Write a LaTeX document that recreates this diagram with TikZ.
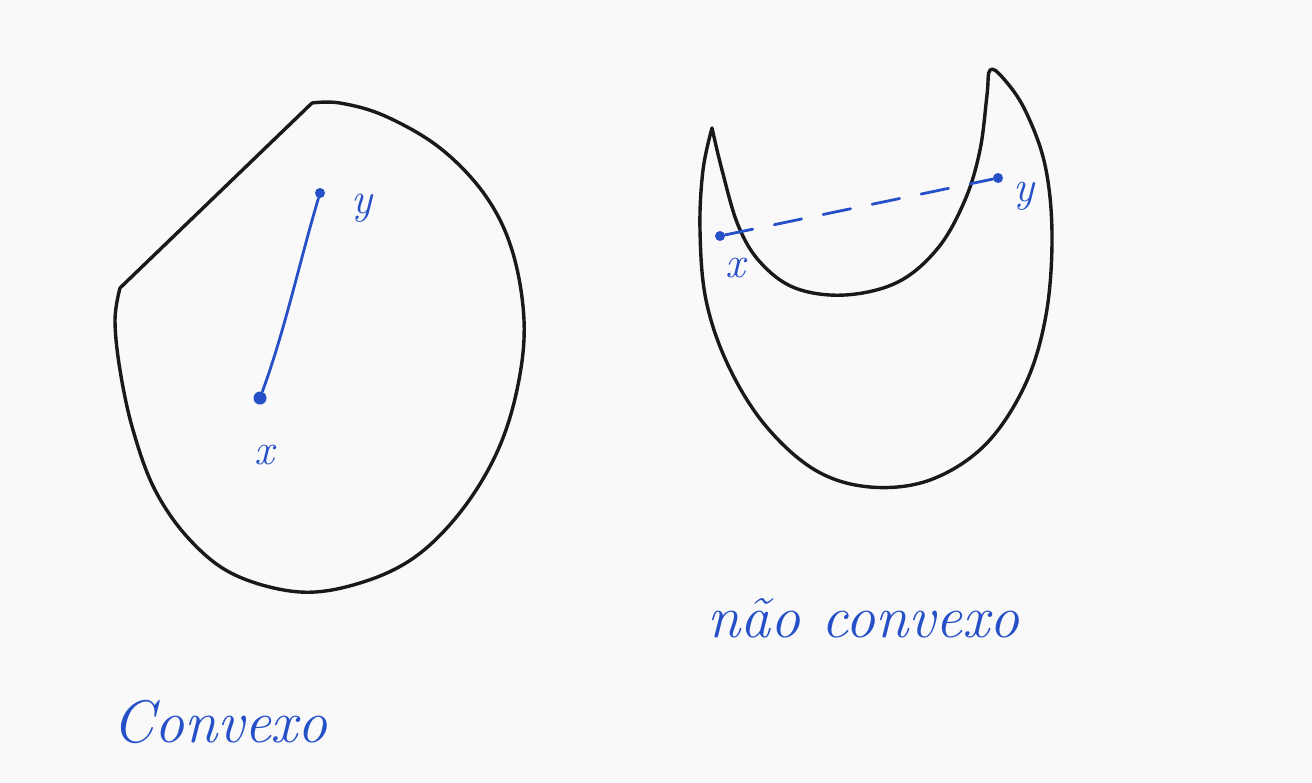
\documentclass[tikz,border=0pt]{standalone}
\usepackage{tikz}
\definecolor{ink}{HTML}{2550C8}
\definecolor{bg}{HTML}{F9F9F9}
\tikzset{
  outline/.style={line width=1.7pt, draw=black!90, line join=round, line cap=round},
  segment/.style={line width=1.4pt, draw=ink, line cap=round},
  dashseg/.style={segment, dash pattern=on 14pt off 11pt},
  dotpt/.style={circle, fill=ink, inner sep=0pt, minimum size=5pt},
  lbl/.style={text=ink, font=\fontsize{22}{26}\selectfont\itshape},
  hand/.style={text=ink, font=\fontsize{30}{36}\selectfont\itshape}
}
\begin{document}
\begin{tikzpicture}[x=0.5pt,y=-0.5pt]
\useasboundingbox (0,0) rectangle (1312,782);
\fill[bg] (0,0) rectangle (1312,782);
% convex set
\draw[outline] (312,103) -- (120,288)
  plot[smooth, tension=0.6] coordinates {(120,288) (115,320) (120,370) (133,430) (155,490) (190,540) (235,575) (300,592) (360,583) (415,557) (462,510) (498,450) (518,385) (524,320) (512,250) (485,195) (440,148) (385,116) (340,103) (312,103)};
\node[dotpt] (cy) at (320,193) {};
\node[dotpt, minimum size=6.5pt] (cx) at (260,398) {};
\draw[segment] (cx) .. controls (285,330) and (300,260) .. (cy);
\node[lbl] (ly) at (362,208) {y};
\node[lbl] (lx) at (264,455) {x};
% non-convex set
\draw[outline] plot[smooth, tension=0.6] coordinates {(712,128) (703,170) (700,230) (706,300) (728,365) (765,425) (815,470) (870,487) (930,480) (985,445) (1025,385) (1046,315) (1052,235) (1045,165) (1025,110) (1003,78) (990,70) (987,95) (980,150) (965,200) (938,248) (898,282) (845,295) (795,288) (760,262) (738,225) (722,170) (712,128)};
\node[dotpt] (nx) at (720,236) {};
\node[dotpt] (ny) at (998,178) {};
\draw[dashseg] (nx) -- (ny);
\node[lbl] (nlx) at (735,268) {x};
\node[lbl] (nly) at (1024,196) {y};
% captions
\node[hand] (cap2) at (863,618) {não convexo};
\node[hand] (cap1) at (220,722) {Convexo};
\end{tikzpicture}
\end{document}
